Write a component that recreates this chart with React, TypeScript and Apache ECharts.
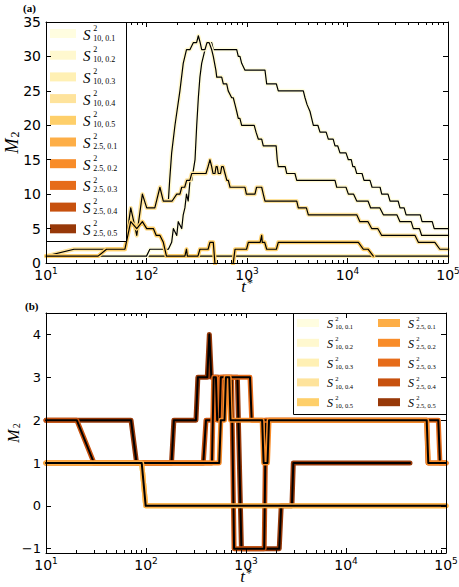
import React, { useEffect, useRef } from "react";
import * as echarts from "echarts";

type Pt = [number, number];

// Subscripts of the S^2 series names and their YlOrBr colours
const seriesSubscripts = [
  "10, 0.1", "10, 0.2", "10, 0.3", "10, 0.4", "10, 0.5",
  "2.5, 0.1", "2.5, 0.2", "2.5, 0.3", "2.5, 0.4", "2.5, 0.5",
];
const seriesColors = [
  "#fffde0", "#fff8cf", "#fff0b4", "#fee39c", "#fecf6a",
  "#fdae47", "#f88c29", "#e66c1a", "#c7510e", "#973808",
];

// Time axis (log scale) and its minor ticks
const tRange: [number, number] = [10, 100000];
const tDecades = [10, 100, 1000, 10000];
const tMinorMultipliers = [2, 3, 4, 5, 6, 7, 8, 9];

// Value axes
const yRangeA: [number, number] = [0, 35];
const yStepA = 5;
const yRangeB: [number, number] = [-1.1, 4.5];

// ---- panel (a): M2 over t* ----
const a_S10_01: Pt[] = [
  [10, 1], [100, 1], [108, 2], [165, 2], [178, 3], [185, 5], [200, 4], [207, 6], [224, 5],
  [232, 7], [241, 8], [250, 10], [260, 9], [271, 12], [282, 12], [304, 15], [316, 20],
  [328, 24], [340, 27], [354, 29], [382, 31], [412, 32], [445, 32], [462, 31], [790, 31],
  [819, 30], [851, 30], [885, 29], [955, 28], [1510, 28], [1540, 27], [1570, 26], [1960, 26],
  [2048, 25], [3634, 25], [3777, 24], [3960, 23], [4237, 22], [4400, 21], [4574, 20],
  [5070, 20], [5325, 19], [6130, 19], [6441, 18], [7200, 18], [7512, 17], [8000, 17],
  [8414, 16], [9660, 16], [10190, 15], [10900, 15], [11300, 14], [11800, 14], [12360, 13],
  [13960, 13], [14600, 12], [16750, 12], [17550, 11], [21100, 11], [21900, 10], [25300, 10],
  [26500, 9], [31900, 9], [33280, 8], [36600, 8], [38300, 7], [53000, 7], [55200, 6],
  [69700, 6], [72900, 5], [100000, 5],
];
const a_S10_02: Pt[] = [
  [10, 1], [19, 2], [61, 2], [69.7, 8], [80, 4], [91, 10], [100.5, 8], [121, 8], [136, 11],
  [147, 9], [165, 9], [170, 12], [178, 16], [192, 20], [215, 25], [232, 29], [250, 31],
  [271, 31], [292, 32], [315, 32], [328, 33], [342, 32], [354, 31], [382, 31], [400, 32],
  [420, 32], [445, 31], [462, 30], [490, 28], [500, 27], [560, 27], [581, 26], [628, 26],
  [650, 25], [704, 24], [730, 24], [760, 23], [790, 22], [819, 21], [850, 21], [885, 20],
  [1180, 20], [1230, 19], [1295, 18], [1400, 18], [1452, 17], [1950, 17], [2000, 15],
  [2048, 14], [2400, 14], [2483, 13], [3000, 13], [3126, 12], [7512, 12], [7809, 11],
  [9660, 11], [10200, 10], [11500, 10], [12360, 9], [16000, 9], [17000, 8], [21000, 8],
  [22740, 7], [31000, 7], [33280, 6], [43000, 6], [45200, 5], [52000, 5], [54700, 4],
  [100000, 4],
];
const a_S10_03: Pt[] = [[10, 1], [100000, 1]];
const a_S10_04: Pt[] = [
  [10, 1], [19, 2], [61, 2], [69.7, 8], [80, 4], [91, 10], [100.5, 8], [121, 8], [136, 11],
  [147, 9], [180, 9], [200, 10], [215, 10], [224, 11], [240, 11], [251, 12], [270, 12],
  [282, 13], [340, 13], [391, 13], [410, 14], [428, 15], [445, 14], [459, 13], [480, 13],
  [492, 14], [505, 14], [518, 13], [545, 13], [560, 14], [580, 14], [604, 13], [630, 12],
  [652, 12], [678, 11], [955, 11], [986, 10], [1200, 10], [1245, 11], [1400, 11],
  [1452, 10], [1510, 9], [3126, 9], [3240, 8], [3900, 8], [4077, 7], [12360, 7],
  [13300, 6], [16000, 6], [17400, 5], [20000, 5], [21900, 4], [47000, 4], [50700, 3],
  [74000, 3], [83000, 2], [100000, 2],
];
const a_S10_05: Pt[] = [
  [10, 1], [33, 1], [40, 2], [61, 2], [69.7, 6], [80, 5], [91, 6], [100.5, 5], [117, 5],
  [125, 4], [136, 4], [147, 3], [158, 1], [241, 1], [250, 2], [255, 1], [325, 1], [340, 2],
  [410, 2], [428, 3], [462, 3], [485, -1], [715, -1], [760, 2], [990, 2], [1031, 3],
  [1352, 3], [1400, 4], [1420, 3], [1500, 3], [1570, 2], [1960, 2], [2048, 3], [12830, 3],
  [14370, 2], [16000, 2], [18070, 1],
];
const panelA: (Pt[] | null)[] = [a_S10_01, a_S10_02, a_S10_03, a_S10_04, a_S10_05, null, null, null, null, null];
const drawOrderA = [2, 0, 1, 3, 4];

// ---- panel (b): M2 over t* ----
const b_S10: Pt[] = [[10, 1], [90.6, 1], [99.3, 0], [100000, 0]];
const b_S25_01: Pt[] = [[10, 1], [90.6, 1], [99.3, 0], [100000, 0]];
const b_S25_02: Pt[] = [
  [10, 1], [540, 1], [560, 2], [610, 2], [630, 3], [680, 3], [700, 2], [1450, 2], [1500, 1],
  [1640, 1], [1700, 2], [64120, 2], [66500, 1], [100000, 1],
];
const b_S25_03: Pt[] = [
  [10, 1], [457, 1], [475, 3], [500, 3], [515, 2], [545, 2], [560, 3], [1096, 3], [1140, 2],
  [83750, 2], [87000, 1], [100000, 1],
];
const b_S25_04: Pt[] = [
  [10, 2], [20.3, 2], [30.2, 1], [374, 1], [398, 2], [470, 2], [490, 3], [718, 3], [760, -1],
  [1520, -1], [1580, 2], [64120, 2], [66000, 1], [100000, 1],
];
const b_S25_05: Pt[] = [
  [10, 2], [70.8, 2], [80.5, 1], [180, 1], [190, 2], [316, 2], [330, 3], [410, 3], [430, 4],
  [450, 3], [525, 3], [540, 2], [575, 2], [590, 3], [820, 3], [900, -1], [2150, -1],
  [2250, 0], [2880, 0], [2972, 1], [43650, 1],
];
const panelB: (Pt[] | null)[] = [b_S10, b_S10, b_S10, b_S10, b_S10, b_S25_01, b_S25_02, b_S25_03, b_S25_04, b_S25_05];
const drawOrderB = [0, 1, 2, 3, 4, 9, 8, 7, 6, 5];

const MATH = '"Liberation Serif"';
const SANS = '"DejaVu Sans"';

function lineSeries(data: (Pt[] | null)[], order: number[], axis: number, haloW: number, coreW: number) {
  const out: any[] = [];
  order.forEach((i) => {
    const d = data[i];
    if (!d) return;
    const base = {
      type: "line", xAxisIndex: axis, yAxisIndex: axis, data: d, symbol: "none",
      silent: true, clip: true, name: "S2_" + seriesSubscripts[i],
    };
    out.push({ ...base, lineStyle: { color: seriesColors[i], width: haloW, cap: "round", join: "round" } });
    out.push({ ...base, lineStyle: { color: "#000", width: coreW, cap: "round", join: "round" } });
  });
  return out;
}

function minorTickSeries(axis: number) {
  const data: Pt[] = [];
  tDecades.forEach((d) => tMinorMultipliers.forEach((m) => data.push([m * d, 1])));
  return {
    type: "custom", xAxisIndex: axis, yAxisIndex: axis, data, silent: true, clip: false, z: 5,
    renderItem: (params: any, api: any) => {
      const x = Math.round(api.coord([api.value(0), api.value(1)])[0]) + 0.5;
      const cs = params.coordSys;
      const top = cs.y;
      const bot = cs.y + cs.height;
      const st = { stroke: "#000", lineWidth: 1 };
      return {
        type: "group",
        children: [
          { type: "line", shape: { x1: x, y1: bot, x2: x, y2: bot - 3 }, style: st },
          { type: "line", shape: { x1: x, y1: top, x2: x, y2: top + 3 }, style: st },
        ],
      };
    },
  };
}

function xAxes(grid: number, labelSize: number) {
  const common = {
    gridIndex: grid, type: "log", logBase: 10, min: tRange[0], max: tRange[1],
    splitLine: { show: false }, z: 200,
    axisLine: { show: true, onZero: false, lineStyle: { color: "#000", width: 1 } },
    axisTick: { show: true, inside: true, length: 5, lineStyle: { color: "#000", width: 1 } },
  };
  return [
    {
      ...common, position: "bottom",
      axisLabel: {
        margin: 5,
        formatter: (v: number) => `{b|10}{e|${Math.round(Math.log10(v))}}`,
        rich: {
          b: { fontSize: labelSize, lineHeight: 14, fontFamily: SANS, color: "#000" },
          e: { fontSize: Math.round(labelSize * 0.66), lineHeight: 6, fontFamily: SANS, color: "#000", padding: [0, 0, 8, 0] },
        },
      },
      name: "{t|t}{s|*}", nameLocation: "middle", nameGap: 16, nameMoveOverlap: false,
      nameTextStyle: {
        rich: {
          t: { fontSize: 17, lineHeight: 15, fontFamily: MATH, fontStyle: "italic", color: "#000" },
          s: { fontSize: 12, lineHeight: 7, fontFamily: MATH, color: "#000", padding: [0, 0, 8, 1] },
        },
      },
    },
    { ...common, position: "top", axisLabel: { show: false } },
  ];
}

function yAxes(grid: number, range: [number, number], step: number | null, labelSize: number, nameSize: number) {
  const common: any = {
    gridIndex: grid, type: "value", min: range[0], max: range[1],
    splitLine: { show: false }, z: 200,
    axisLine: { show: true, onZero: false, lineStyle: { color: "#000", width: 1 } },
    axisTick: { show: true, inside: true, length: 5, lineStyle: { color: "#000", width: 1 } },
  };
  if (step !== null) common.interval = step;
  else common.splitNumber = 5;
  return [
    {
      ...common, position: "left",
      axisLabel: {
        margin: 5, fontSize: labelSize, lineHeight: 10, fontFamily: SANS, color: "#000", align: "right",
        showMinLabel: step !== null, showMaxLabel: step !== null,
        formatter: (v: number) => (v < 0 ? "\u2212" + Math.abs(v) : String(v)),
      },
      name: "{m|M}{s|2}", nameLocation: "middle", nameRotate: 90, nameGap: 25,
      nameMoveOverlap: false,
      nameTextStyle: {
        rich: {
          m: { fontSize: nameSize, fontFamily: MATH, fontStyle: "italic", color: "#000" },
          s: { fontSize: Math.round(nameSize * 0.65), fontFamily: MATH, color: "#000", padding: [6, 0, 0, 1] },
        },
      },
    },
    { ...common, position: "right", axisLabel: { show: false } },
  ];
}

function legendGraphic(
  box: { x: number; y: number; w: number; h: number },
  columns: { patchX: number; textX: number; items: number[] }[],
  rowY0: number, rowStep: number, patchW: number, patchH: number, sSize: number, scriptSize: number,
) {
  const els: any[] = [
    {
      type: "rect", z: 100,
      shape: { x: box.x + 0.5, y: box.y + 0.5, width: box.w, height: box.h },
      style: { fill: "#fff", stroke: "#000", lineWidth: 1 },
    },
  ];
  columns.forEach((col) => {
    col.items.forEach((idx, r) => {
      const cy = rowY0 + r * rowStep;
      els.push({
        type: "rect", z: 101,
        shape: { x: col.patchX, y: cy - patchH / 2, width: patchW, height: patchH },
        style: { fill: seriesColors[idx] },
      });
      els.push({
        type: "text", z: 101, x: col.textX, y: cy + 1,
        style: { text: "S", font: `italic ${sSize}px ${MATH}`, fill: "#000", align: "left", verticalAlign: "middle" },
      });
      els.push({
        type: "text", z: 101, x: col.textX + sSize * 0.68, y: cy - sSize * 0.36,
        style: { text: "2", font: `${scriptSize}px ${MATH}`, fill: "#000", align: "left", verticalAlign: "middle" },
      });
      els.push({
        type: "text", z: 101, x: col.textX + sSize * 0.68, y: cy + sSize * 0.3,
        style: { text: seriesSubscripts[idx], font: `${scriptSize}px ${MATH}`, fill: "#000", align: "left", verticalAlign: "middle" },
      });
    });
  });
  return els;
}

export default function App() {
  const ref = useRef<HTMLDivElement>(null);

  useEffect(() => {
    if (!ref.current) return;
    const chart = echarts.init(ref.current, undefined, { renderer: "svg" });

    const graphics = [
      ...legendGraphic({ x: 46, y: 22, w: 80, h: 219 },
        [{ patchX: 50, textX: 83, items: [0, 1, 2, 3, 4, 5, 6, 7, 8, 9] }],
        33.5, 21.7, 26, 9, 15, 8),
      ...legendGraphic({ x: 293, y: 313, w: 153, h: 101 },
        [
          { patchX: 297, textX: 327, items: [0, 1, 2, 3, 4] },
          { patchX: 378, textX: 408, items: [5, 6, 7, 8, 9] },
        ],
        323, 19.8, 22, 8, 12, 6.5),
      {
        type: "text", z: 101, x: 23, y: 8,
        style: { text: "(a)", font: `bold 11px ${MATH}`, fill: "#000", verticalAlign: "middle" },
      },
      {
        type: "text", z: 101, x: 25, y: 306,
        style: { text: "(b)", font: `bold 11px ${MATH}`, fill: "#000", verticalAlign: "middle" },
      },
    ];

    chart.setOption({
      animation: false,
      backgroundColor: "#fff",
      grid: [
        { left: 46, top: 22, width: 402, height: 241, containLabel: false, outerBoundsMode: "none" },
        { left: 46, top: 313, width: 400, height: 240, containLabel: false, outerBoundsMode: "none" },
      ],
      xAxis: [...xAxes(0, 14), ...xAxes(1, 14)],
      yAxis: [...yAxes(0, yRangeA, yStepA, 14, 18), ...yAxes(1, yRangeB, null, 13, 16)],
      series: [
        ...lineSeries(panelA, drawOrderA, 0, 4, 1.2),
        minorTickSeries(0),
        ...lineSeries(panelB, drawOrderB, 2, 5, 2),
        minorTickSeries(2),
      ],
      graphic: graphics,
    });

    return () => chart.dispose();
  }, []);

  return (
    <div
      ref={ref}
      style={{ position: "fixed", left: 0, top: 0, width: 459, height: 587, background: "#fff" }}
    />
  );
}
